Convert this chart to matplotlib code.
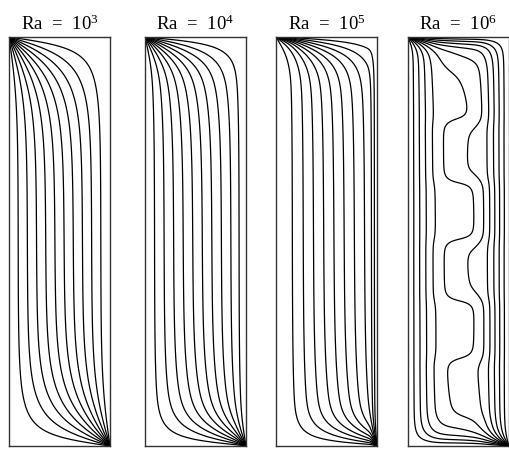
import numpy as np
import matplotlib.pyplot as plt

plt.rcParams['mathtext.fontset'] = 'custom'
plt.rcParams['mathtext.rm'] = 'Liberation Serif'
plt.rcParams['font.family'] = 'Liberation Serif'

# panels: Rayleigh number exponent and heatline clustering settings
ra_exp = [3, 4, 5, 6]
# side walls: (extra density, layer width) at the left and right walls
left_c = [0.0, 0.0, -0.45, 7.2]
left_w = [0.15, 0.15, 0.15, 0.26]
right_c = [0.0, 0.4, 3.0, 9.0]
right_w = [0.10, 0.10, 0.06, 0.25]
# bottom and top walls
bot_c = [0.0, 0.8, 2.0, 6.0]
bot_w = [0.40, 0.40, 0.35, 0.28]
top_c = [0.0, 0.8, 2.0, 7.0]
top_w = [0.40, 0.40, 0.45, 0.20]
# meander of the core heatline
wave_a = [0.0, 0.0, 0.0, 0.065]
wave_x = [0.5, 0.5, 0.5, 0.55]
wave_p = [1.0, 1.0, 1.0, 1.16]
wave_y0 = [0.0, 0.0, 0.0, 2.01]
levels = np.arange(1, 11) / 11.0

R = 4.0   # cavity aspect ratio H/W
nx, ny = 201, 801
x = np.linspace(0, 1, nx)
y = np.linspace(0, R, ny)


def layer(d, w):
    return 1 / (1 + np.exp((d - w) / (0.2 * w)))


def stretch(s, L, c0, w0, c1, w1):
    dens = 1 + c0 * layer(s, w0) + c1 * layer(L - s, w1)
    cum = np.concatenate([[0], np.cumsum(0.5 * (dens[1:] + dens[:-1]) * np.diff(s))])
    return cum / cum[-1] * L


def laplace(xi, eta, nterm=400):
    # psi = 1 on left and bottom walls, 0 on top and right walls
    n = np.arange(1, 2 * nterm, 2)[:, None]
    sig = np.sinc(n / (2 * nterm))          # Lanczos damping
    k = 4 / (n * np.pi) * sig
    a = n * np.pi / R
    t1 = np.exp(-a * xi[None, :]) * (1 - np.exp(-2 * a * (1 - xi[None, :]))) / (1 - np.exp(-2 * a))
    p1 = (k * np.sin(a * eta[None, :])).T @ t1
    b = n * np.pi
    t2 = np.exp(-b * eta[None, :]) * (1 - np.exp(-2 * b * (R - eta[None, :]))) / (1 - np.exp(-2 * b * R))
    p2 = t2.T @ (k * np.sin(b * xi[None, :]))
    return p1 + p2


fig = plt.figure(figsize=(5.1, 4.5), dpi=100)
lefts = [9, 145, 276, 408]
X, Y = np.meshgrid(x, y)
for i, e in enumerate(ra_exp):
    ax = fig.add_axes([lefts[i] / 510, 4 / 450, 101 / 510, 409 / 450])
    xi = stretch(x, 1.0, left_c[i], left_w[i], right_c[i], right_w[i])
    eta = stretch(y, R, bot_c[i], bot_w[i], top_c[i], top_w[i])
    psi = laplace(xi, eta)
    if wave_a[i] > 0:
        bump = np.exp(-((X - wave_x[i]) / 0.22) ** 2) * np.sin(np.pi * Y / R) ** 0.5
        sq = np.tanh(2.5 * np.sin(2 * np.pi * (Y - wave_y0[i]) / wave_p[i]))
        psi = psi + wave_a[i] * bump * sq
    ax.contour(X, Y, psi, levels=levels, colors='k', linewidths=0.9)
    ax.set_xlim(0, 1)
    ax.set_ylim(0, R)
    ax.set_xticks([])
    ax.set_yticks([])
    for sp in ax.spines.values():
        sp.set_color('#333333')
        sp.set_linewidth(1.0)
    ax.set_title(r'$\mathrm{Ra\ =\ 10^{%d}}$' % e, fontsize=13.5, pad=5)

fig.savefig('out.png', dpi=100)
